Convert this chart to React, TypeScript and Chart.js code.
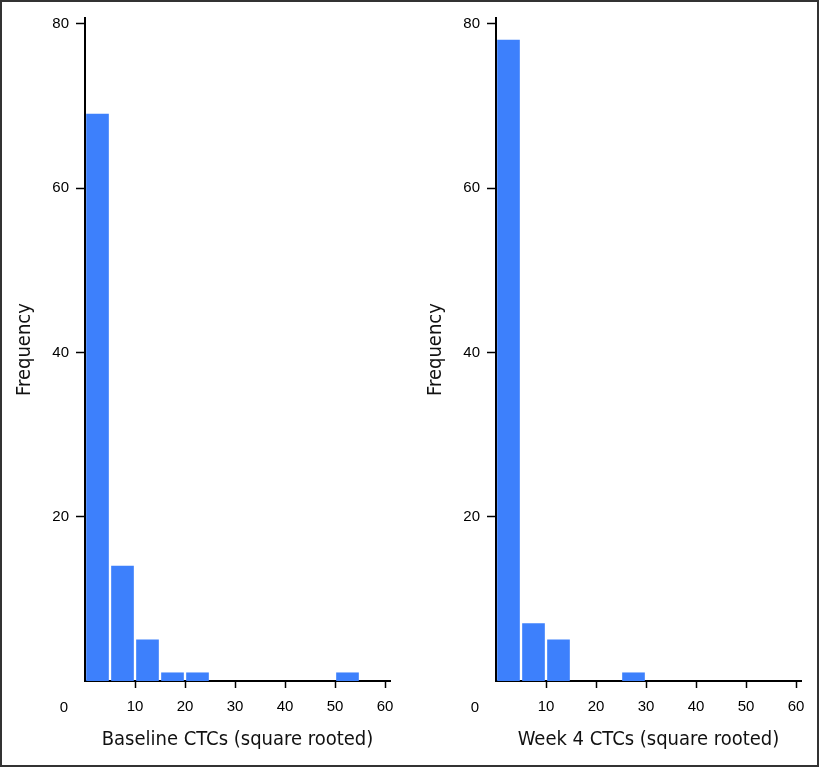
import React, { useEffect, useRef } from "react";
import { Chart, registerables } from "chart.js";

Chart.register(...registerables);

// Histogram bins (width 5, square-rooted CTC counts), given by bin centres
const binCenters = [2.5, 7.5, 12.5, 17.5, 22.5, 27.5, 32.5, 37.5, 42.5, 47.5, 52.5, 57.5];
const baselineCounts = [69, 14, 5, 1, 1, 0, 0, 0, 0, 0, 1, 0];
const week4Counts = [78, 7, 5, 0, 0, 1, 0, 0, 0, 0, 0, 0];

const xTickValues = [10, 20, 30, 40, 50, 60];
const yTickValues = [20, 40, 60, 80];

const xMin = 0;
const xMax = 61;
const yMin = 0;
const yMax = 80.7;

const yTitle = "Frequency";
const baselineTitle = "Baseline CTCs (square rooted)";
const week4Title = "Week 4 CTCs (square rooted)";
const originLabel = "0";

const BAR_COLOR = "#3d80fc";
const TITLE_FONT = "'Liberation Sans Narrow', 'DejaVu Sans Condensed', 'Liberation Sans', sans-serif";
const TICK_FONT = "'Liberation Sans', Arial, sans-serif";

const originPlugin = {
  id: "originLabel",
  afterDraw(chart: any) {
    const ctx = chart.ctx;
    const xs = chart.scales.x;
    ctx.save();
    ctx.font = `15px ${TICK_FONT}`;
    ctx.fillStyle = "#000";
    ctx.textAlign = "center";
    ctx.textBaseline = "middle";
    ctx.fillText(originLabel, xs.getPixelForValue(0) - 21, chart.chartArea.bottom + 27);
    ctx.restore();
  },
};

function Histogram({ counts, title }: { counts: number[]; title: string }) {
  const ref = useRef<HTMLCanvasElement>(null);
  useEffect(() => {
    if (!ref.current) return;
    const points = binCenters
      .map((c, i) => ({ x: c, y: counts[i] }))
      .filter((p) => p.y > 0);
    const chart = new Chart(ref.current, {
      type: "bar",
      data: {
        datasets: [
          {
            data: points,
            backgroundColor: BAR_COLOR,
            borderWidth: 0,
            barThickness: 22,
          },
        ],
      },
      options: {
        responsive: false,
        animation: false,
        layout: { padding: { top: 18, right: 19, left: 0, bottom: 0 } },
        plugins: { legend: { display: false }, tooltip: { enabled: false } },
        scales: {
          x: {
            type: "linear",
            min: xMin,
            max: xMax,
            offset: false,
            afterFit: (s: any) => {
              s.height = 86;
            },
            afterBuildTicks: (s: any) => {
              s.ticks = xTickValues.map((v) => ({ value: v }));
            },
            grid: {
              offset: false,
              drawOnChartArea: false,
              drawTicks: true,
              tickLength: 7,
              tickColor: "#000",
              tickWidth: 1.5,
            },
            border: { display: true, color: "#000", width: 2 },
            ticks: {
              includeBounds: false,
              color: "#000",
              padding: 10,
              maxRotation: 0,
              font: { family: TICK_FONT, size: 15 },
            },
            title: {
              display: true,
              text: title,
              color: "#111",
              font: { family: TITLE_FONT, size: 20 },
              padding: { top: 0, bottom: 15 },
            },
          },
          y: {
            type: "linear",
            min: yMin,
            max: yMax,
            afterFit: (s: any) => {
              s.width = 85;
            },
            afterBuildTicks: (s: any) => {
              s.ticks = yTickValues.map((v) => ({ value: v }));
            },
            grid: {
              drawOnChartArea: false,
              drawTicks: true,
              tickLength: 9,
              tickColor: "#000",
              tickWidth: 1.5,
            },
            border: { display: true, color: "#000", width: 2 },
            ticks: {
              includeBounds: false,
              color: "#000",
              padding: 7,
              font: { family: TICK_FONT, size: 15 },
            },
            title: {
              display: true,
              text: yTitle,
              color: "#111",
              font: { family: TITLE_FONT, size: 20 },
              padding: { top: 13, bottom: 0 },
            },
          },
        },
      } as any,
      plugins: [originPlugin],
    });
    return () => chart.destroy();
  }, [counts, title]);
  return <canvas ref={ref} width={409} height={767} style={{ display: "block" }} />;
}

export default function App() {
  useEffect(() => {
    document.body.style.margin = "0";
  }, []);
  return (
    <div style={{ position: "relative", width: 819, height: 767, background: "#fff", overflow: "hidden" }}>
      <div style={{ position: "absolute", left: 0, top: 0 }}>
        <Histogram counts={baselineCounts} title={baselineTitle} />
      </div>
      <div style={{ position: "absolute", left: 411, top: 0 }}>
        <Histogram counts={week4Counts} title={week4Title} />
      </div>
      <div
        style={{
          position: "absolute",
          inset: 0,
          border: "2px solid #333",
          boxSizing: "border-box",
          pointerEvents: "none",
        }}
      />
    </div>
  );
}
